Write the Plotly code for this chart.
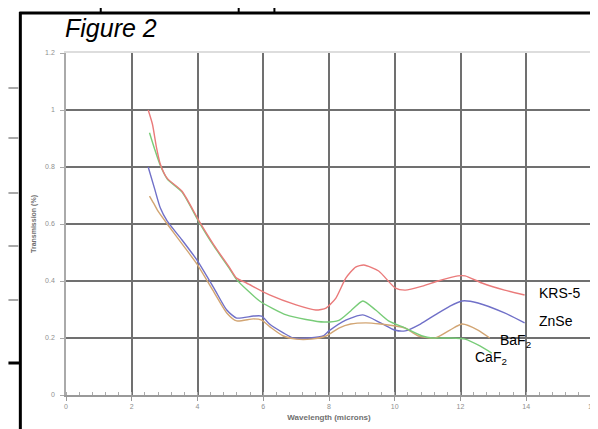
import plotly.graph_objects as go

# ---------------- data ----------------
krs5_x = [2.5, 2.63, 2.75, 2.87, 3.08, 3.53, 4.05, 4.5, 4.98, 5.19, 5.49, 6.19, 7.0, 7.6, 7.91,
          8.21, 8.51, 8.81, 9.06, 9.51, 10.02, 10.32, 10.84, 11.32, 11.92, 12.14, 12.65, 13.34, 13.95]
krs5_y = [1.0, 0.95, 0.87, 0.81, 0.76, 0.715, 0.61, 0.526, 0.446, 0.41, 0.393, 0.351, 0.316, 0.298, 0.305,
          0.34, 0.41, 0.449, 0.456, 0.435, 0.375, 0.368, 0.382, 0.40, 0.418, 0.418, 0.393, 0.368, 0.351]

caf2_x = [2.54, 2.69, 2.87, 3.08, 3.53, 4.05, 4.5, 4.98, 5.19, 5.89, 6.7, 7.3, 7.85, 8.3, 8.66,
          9.03, 9.42, 9.81, 10.32, 10.84, 11.14, 11.68, 12.14, 12.59, 12.95]
caf2_y = [0.92, 0.865, 0.805, 0.758, 0.712, 0.606, 0.522, 0.442, 0.405, 0.33, 0.281, 0.265, 0.256, 0.262, 0.295,
          0.33, 0.298, 0.26, 0.235, 0.207, 0.20, 0.20, 0.196, 0.172, 0.147]

znse_x = [2.5, 2.69, 2.87, 3.08, 3.53, 3.98, 4.5, 4.89, 5.19, 5.7, 5.95, 6.19, 6.61, 6.91, 7.4,
          7.82, 8.0, 8.51, 9.03, 9.57, 9.99, 10.32, 10.78, 11.23, 11.68, 12.05, 12.53, 13.34, 13.95]
znse_y = [0.80, 0.726, 0.656, 0.61, 0.544, 0.474, 0.375, 0.298, 0.27, 0.277, 0.277, 0.249, 0.218, 0.20, 0.20,
          0.207, 0.225, 0.263, 0.281, 0.253, 0.228, 0.225, 0.249, 0.281, 0.312, 0.33, 0.323, 0.288, 0.253]

baf2_x = [2.54, 2.66, 2.78, 3.08, 3.53, 3.98, 4.5, 4.89, 5.19, 5.7, 5.95, 6.25, 6.61, 7.0, 7.46,
          7.91, 8.3, 8.66, 9.12, 9.57, 10.02, 10.32, 10.72, 11.23, 11.68, 12.05, 12.53, 12.89]
baf2_y = [0.698, 0.674, 0.649, 0.60, 0.53, 0.46, 0.361, 0.288, 0.26, 0.267, 0.263, 0.235, 0.207, 0.196, 0.196,
          0.207, 0.235, 0.249, 0.253, 0.249, 0.242, 0.235, 0.207, 0.20, 0.228, 0.249, 0.228, 0.20]

x_ticks = [0, 2, 4, 6, 8, 10, 12, 14, 16]
y_ticks = [0, 0.2, 0.4, 0.6, 0.8, 1.0, 1.2]
y_tick_text = ["0", "0.2", "0.4", "0.6", "0.8", "1", "1.2"]
x_grid = [2, 4, 6, 8, 10, 12, 14]
y_grid = [0.2, 0.4, 0.6, 0.8, 1.0]

labels = [("KRS-5", 14.34, 0.358), ("ZnSe", 14.34, 0.26),
          ("BaF<sub>2</sub>", 13.13, 0.19), ("CaF<sub>2</sub>", 12.38, 0.13)]

# ---------------- figure ----------------
W, H = 598, 429
ML, MR, MT, MB = 58, 10, 45, 42
PW, PH = W - ML - MR, H - MT - MB


def pxx(px):
    return (px - ML) / PW


def pxy(py):
    return (H - MB - py) / PH


fig = go.Figure()
series = [
    (znse_x, znse_y, "rgb(112,112,200)"),
    (baf2_x, baf2_y, "rgb(210,165,115)"),
    (caf2_x, caf2_y, "rgb(120,204,120)"),
    (krs5_x, krs5_y, "rgb(234,122,122)"),
]
for xs, ys, c in series:
    fig.add_trace(go.Scatter(x=xs, y=ys, mode="lines",
                             line=dict(color=c, width=1.4, shape="spline", smoothing=0.6),
                             showlegend=False, hoverinfo="skip"))
fig.add_trace(go.Scatter(x=[None], y=[None], xaxis="x2", yaxis="y2",
                         showlegend=False, hoverinfo="skip"))

grid_col = "rgb(112,112,112)"
font_fam = "Liberation Sans, Arial, sans-serif"

fig.update_layout(
    width=W, height=H,
    margin=dict(l=ML, r=MR, t=MT, b=MB),
    paper_bgcolor="white", plot_bgcolor="white",
    font=dict(family=font_fam),
    xaxis=dict(range=[0, 16], side="top", tickmode="array", tickvals=x_grid,
               showticklabels=False, ticks="", showgrid=True, gridcolor=grid_col,
               gridwidth=2, showline=True, linecolor="#dddddd", linewidth=2,
               zeroline=False, fixedrange=True),
    yaxis=dict(range=[0, 1.2], side="right", tickmode="array", tickvals=y_grid,
               showticklabels=False, ticks="", showgrid=True, gridcolor=grid_col,
               gridwidth=2, showline=True, linecolor="#dddddd", linewidth=2,
               zeroline=False, fixedrange=True),
    xaxis2=dict(overlaying="x", anchor="y", side="bottom", range=[0, 16],
                tickmode="array", tickvals=x_ticks, ticktext=[str(v) for v in x_ticks],
                ticks="outside", ticklen=4, tickcolor="#999999", tickwidth=1,
                showgrid=False, zeroline=False, showline=True, linecolor="#999999",
                linewidth=1.5, tickfont=dict(size=7, color="#8f8f8f"),
                minor=dict(tickmode="linear", tick0=0, dtick=0.4, ticks="inside",
                           ticklen=3, tickcolor="#aaaaaa", showgrid=False),
                title=dict(text="<b>Wavelength (microns)</b>",
                           font=dict(size=8, color="#6f6f6f"), standoff=5),
                fixedrange=True),
    yaxis2=dict(overlaying="y", anchor="x", side="left", range=[0, 1.2],
                tickmode="array", tickvals=y_ticks, ticktext=y_tick_text,
                ticks="outside", ticklen=4, tickcolor="#aaaaaa",
                ticklabelstandoff=4,
                showgrid=False, zeroline=False, showline=True, linecolor="#aaaaaa",
                linewidth=1.5, tickfont=dict(size=7, color="#8f8f8f"),
                title=dict(text="<b>Transmission (%)</b>",
                           font=dict(size=7, color="#6f6f6f"), standoff=8),
                fixedrange=True),
)

# curve labels
for txt, lx, ly in labels:
    fig.add_annotation(x=lx, y=ly, xref="x", yref="y", text=txt, showarrow=False,
                       xanchor="left", yanchor="middle",
                       font=dict(size=14, color="black", family=font_fam))

# figure caption
fig.add_annotation(x=pxx(55), y=pxy(20), xref="paper", yref="paper",
                   text="<i>Figure 2</i>", showarrow=False, xanchor="left",
                   yanchor="middle", font=dict(size=25, color="black", family=font_fam))

# surrounding page frame lines (scan artefacts)
shapes = []


def seg(x0, y0, x1, y1, color, w):
    shapes.append(dict(type="line", xref="paper", yref="paper",
                       x0=pxx(x0), y0=pxy(y0), x1=pxx(x1), y1=pxy(y1),
                       line=dict(color=color, width=w), layer="above"))


seg(11, 5, 598, 5, "black", 3)
seg(12, 4, 12, 429, "black", 3)
for vx in (93, 232, 268):
    seg(vx, 0, vx, 5, "black", 2)
for gy in (80, 130, 185, 238, 292):
    seg(0, gy, 10, gy, "#a8a8a8", 2)
seg(0, 355, 12, 355, "black", 3)

fig.update_layout(shapes=shapes)

fig.write_html("out.html")
